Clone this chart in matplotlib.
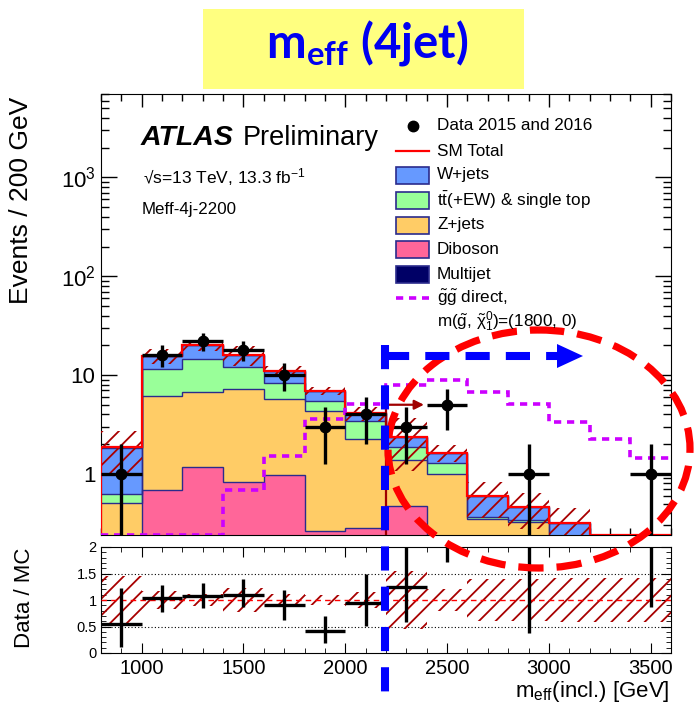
import numpy as np
import matplotlib
matplotlib.use('Agg')
import matplotlib.pyplot as plt
from matplotlib.patches import Rectangle, Ellipse, Polygon
from matplotlib.lines import Line2D
import matplotlib.ticker as mt

plt.rcParams['font.family'] = ['Liberation Sans', 'DejaVu Sans']
plt.rcParams['mathtext.fontset'] = 'custom'
plt.rcParams['mathtext.rm'] = 'Liberation Sans'
plt.rcParams['mathtext.it'] = 'Liberation Sans:italic'
plt.rcParams['mathtext.bf'] = 'Lato:bold'
plt.rcParams['hatch.linewidth'] = 1.3

# ---------------- data ----------------
edges = [800, 1000, 1200, 1400, 1600, 1800, 2000, 2200, 2400, 2600, 2800, 3000, 3200, 3400, 3600]
data_counts = [1, 16, 22, 18, 10, 3, 4, 3, 5, 0, 1, 0, 0, 1]
diboson = [0.05, 0.69, 1.18, 0.82, 0.96, 0.26, 0.28, 0.47, 0.08, 0.05, 0.03, 0.02, 0, 0]
zjets = [0.46, 5.51, 5.60, 6.35, 4.73, 4.04, 1.98, 0.91, 0.92, 0.30, 0.296, 0.18, 0, 0]
ttbar = [0.12, 5.2, 7.72, 4.78, 2.56, 1.17, 1.17, 0.48, 0.28, 0.01, 0.01, 0.005, 0, 0]
wjets = [1.21, 4.1, 5.6, 4.05, 2.65, 1.43, 0.67, 0.52, 0.36, 0.235, 0.12, 0.115, 0, 0]
multijet = [0.01, 0.02, 0.02, 0.01, 0.01, 0.005, 0.005, 0, 0, 0, 0, 0, 0, 0]
rel_unc = [0.45, 0.17, 0.12, 0.23, 0.12, 0.1, 0.16, 0.55, 0.2, 0.4, 0.4, 0.42, 0.42, 0.42]
signal = [0, 0, 0, 0.68, 1.5, 3.57, 5.1, 7.9, 8.9, 6.8, 5.1, 3.38, 2.24, 1.44]
ratio = [0.55, 1.03, 1.07, 1.1, 0.9, 0.42, 0.95, 1.25, 3.05, np.nan, 2.2, np.nan, np.nan, 2.5]
ratio_lo = [0.44, 0.25, 0.22, 0.23, 0.28, 0.23, 0.44, 0.66, 1.33, np.nan, 1.82, np.nan, np.nan, 1.63]
ratio_hi = [0.68, 0.25, 0.25, 0.3, 0.29, 0.28, 0.55, 0.9, 1.4, np.nan, 2.3, np.nan, np.nan, 2.0]
cut_value = 2200
cut_level = 5.0

x_ticks = [1000, 1500, 2000, 2500, 3000, 3500]
ratio_ticks = [0, 0.5, 1, 1.5, 2]

edges = np.array(edges, float)
centers = 0.5 * (edges[:-1] + edges[1:])
halfw = 0.5 * (edges[1:] - edges[:-1])
data_counts = np.array(data_counts, float)

ymin, ymax = 0.24, 7000

fig = plt.figure(figsize=(6.99, 7.05), dpi=100)
W, H = 699, 705
ax = fig.add_axes([101 / W, 1 - 535 / H, (671 - 101) / W, (535 - 94) / H])
rax = fig.add_axes([101 / W, 1 - 653 / H, (671 - 101) / W, (653 - 547) / H])

# ---------------- stacked backgrounds ----------------
comps = [(diboson, '#ff6699'), (zjets, '#ffcc66'), (ttbar, '#99ff99'),
         (wjets, '#6699ff'), (multijet, '#000066')]
base = np.full(len(centers), 1e-3)
for vals, col in comps:
    top = base + np.array(vals, float)
    ax.stairs(top, edges, baseline=base, fill=True, facecolor=col, edgecolor='none', zorder=2)
    ax.stairs(top, edges, baseline=None, color='#2b2b8c', lw=1.0, zorder=2.5)
    base = top
total = base - 1e-3
unc = total * np.array(rel_unc)
ax.stairs(total + unc, edges, baseline=np.maximum(total - unc, 1e-3), fill=True,
          facecolor='none', edgecolor='#a80000', hatch='//', lw=0, zorder=3)
ax.stairs(np.maximum(total, ymin * 1.005), edges, baseline=ymin * 1.005, color='red', lw=1.6, zorder=4)

# signal
ax.stairs(np.maximum(signal, ymin * 1.01), edges, baseline=None, color='#cc00ff', lw=2.6,
          linestyle=(0, (2.0, 1.6)), zorder=5)

# data
m = data_counts > 0
ax.errorbar(centers[m], data_counts[m], yerr=np.sqrt(data_counts[m]), xerr=halfw[m],
            fmt='o', color='black', ms=7.5, elinewidth=2.4, capsize=0, zorder=7)

# cut arrow
ax.annotate('', xy=(cut_value + 200, cut_level), xytext=(cut_value, cut_level),
            arrowprops=dict(arrowstyle='-|>', color='#a00000', lw=1.6, mutation_scale=14), zorder=6)
ax.plot([cut_value, cut_value], [ymin, cut_level], color='#a00000', lw=1.6, zorder=6)

ax.set_yscale('log')
ax.set_ylim(ymin, ymax)
ax.set_xlim(edges[0], edges[-1])
ylabmap = {1: '1', 10: '10', 100: '$10^{2}$', 1000: '$10^{3}$'}
ax.yaxis.set_major_locator(mt.FixedLocator([1, 10, 100, 1000]))
ax.yaxis.set_major_formatter(mt.FuncFormatter(lambda v, p: ylabmap.get(int(round(v)), '')))
ax.yaxis.set_minor_locator(mt.LogLocator(base=10, subs=np.arange(2, 10)))
ax.yaxis.set_minor_formatter(mt.NullFormatter())
ax.xaxis.set_major_locator(mt.FixedLocator(x_ticks))
ax.xaxis.set_minor_locator(mt.MultipleLocator(100))
ax.tick_params(which='both', direction='in', top=True, right=True, labelbottom=False)
ax.tick_params(axis='y', which='major', length=11.5, width=1, labelsize=16, pad=4)
ax.tick_params(axis='y', which='minor', length=6, width=1)
ax.tick_params(axis='x', which='major', length=9.5, width=1)
ax.tick_params(axis='x', which='minor', length=5, width=1)

# ---------------- ratio panel ----------------
ru = np.array(rel_unc)
rax.stairs(1 + ru, edges, baseline=1 - ru, fill=True, facecolor='none', edgecolor='#a80000',
           hatch='//', lw=0, zorder=2)
for yv in (0.5, 1.5):
    rax.axhline(yv, color='black', lw=0.8, ls=(0, (1, 2)), zorder=1)
rax.axhline(1, color='red', lw=1.0, ls=(0, (4, 3)), zorder=3)
r = np.array(ratio)
rm = ~np.isnan(r)
rax.errorbar(centers[rm], r[rm], yerr=[np.array(ratio_lo)[rm], np.array(ratio_hi)[rm]],
             xerr=halfw[rm], fmt='none', ecolor='black', elinewidth=2.4, capsize=0, zorder=5)
rax.set_xlim(edges[0], edges[-1])
rax.set_ylim(0, 2)
rax.yaxis.set_major_locator(mt.FixedLocator(ratio_ticks))
rax.yaxis.set_major_formatter(mt.FuncFormatter(lambda v, p: ('%g' % v)))
rax.yaxis.set_minor_locator(mt.MultipleLocator(0.1))
rax.xaxis.set_major_locator(mt.FixedLocator(x_ticks))
rax.xaxis.set_minor_locator(mt.MultipleLocator(100))
rax.tick_params(which='both', direction='in', top=True, right=True)
rax.tick_params(axis='y', which='major', length=7, labelsize=10.5, pad=3)
rax.tick_params(axis='y', which='minor', length=3.5)
rax.tick_params(axis='x', which='major', length=7, labelsize=14.5, pad=4)
rax.tick_params(axis='x', which='minor', length=3.5)

# ---------------- overlay (text, legend, annotations) ----------------
ov = fig.add_axes([0, 0, 1, 1], zorder=10)
ov.set_xlim(0, W)
ov.set_ylim(H, 0)
ov.axis('off')
ov.patch.set_alpha(0)

# title box
ov.add_patch(Rectangle((203, 9), 321, 80, facecolor='#ffff80', edgecolor='none'))
ov.text(367, 57, 'm$_\\mathbf{eff}$ (4jet)', family='Lato', weight='bold', fontsize=34,
        color='#0000f0', ha='center', va='baseline')

# axis labels
ov.text(21, 97, 'Events / 200 GeV', rotation=90, ha='center', va='top', fontsize=19)
ov.text(25, 598, 'Data / MC', rotation=90, ha='center', va='center', fontsize=16)
ov.text(670, 697, 'm$_{\\mathrm{eff}}$(incl.) [GeV]', ha='right', va='baseline', fontsize=16)

# ATLAS labels
ov.text(141, 145, 'ATLAS', fontsize=20.5, weight='bold', style='italic', va='baseline')
ov.text(243, 145, 'Preliminary', fontsize=19.5, va='baseline')
ov.text(143, 183, '\u221as=13 TeV, 13.3 fb$^{\\mathregular{-1}}$', fontsize=12.5, va='baseline')
ov.text(142, 214, 'Meff-4j-2200', fontsize=12.2, va='baseline')

# legend
rows = [126, 151, 175, 200, 225, 249, 274, 298]
labels = ['Data 2015 and 2016', 'SM Total', 'W+jets', '$\\mathrm{t\\bar{t}}$(+EW) & single top',
          'Z+jets', 'Diboson', 'Multijet', '$\\mathrm{\\tilde{g}\\tilde{g}}$ direct,']
bx0, bx1 = 396, 429
ov.add_line(Line2D([412.5], [rows[0]], marker='o', ms=7.5, color='black'))
ov.add_line(Line2D([bx0, bx1], [rows[1], rows[1]], color='red', lw=1.6))
for yv, (vals, col) in zip(rows[2:7], [comps[3], comps[2], comps[1], comps[0], comps[4]]):
    ov.add_patch(Rectangle((bx0, yv - 8.5), bx1 - bx0, 17, facecolor=col, edgecolor='#2b2b8c', lw=1.2))
ov.add_line(Line2D([bx0, bx1], [rows[7], rows[7]], color='#cc00ff', lw=2.6, ls=(0, (2.0, 1.6))))
for yv, lab in zip(rows, labels):
    ov.text(437, yv, lab, fontsize=12.3, va='center')
ov.text(437, 322, 'm($\\mathrm{\\tilde{g}}$, $\\mathrm{\\tilde{\\chi}_{1}^{0}}$)=(1800, 0)', fontsize=12.3, va='center')

# red dashed ellipse
ov.add_patch(Ellipse((539, 449), 302, 238, fill=False, edgecolor='#ff0000', lw=5.2,
                     ls=(0, (3.5, 1.8))))
# blue dashed line + arrow
blue = '#0000ff'
ov.add_line(Line2D([385, 385], [345, 692], color=blue, lw=5.8, ls=(0, (3, 2))))
ov.add_line(Line2D([385, 560], [356, 356], color=blue, lw=5.8, ls=(0, (3, 2))))
ov.add_patch(Polygon([(557, 344), (583, 356), (557, 368)], closed=True, facecolor=blue, edgecolor='none'))

fig.savefig('out.png', dpi=100)
